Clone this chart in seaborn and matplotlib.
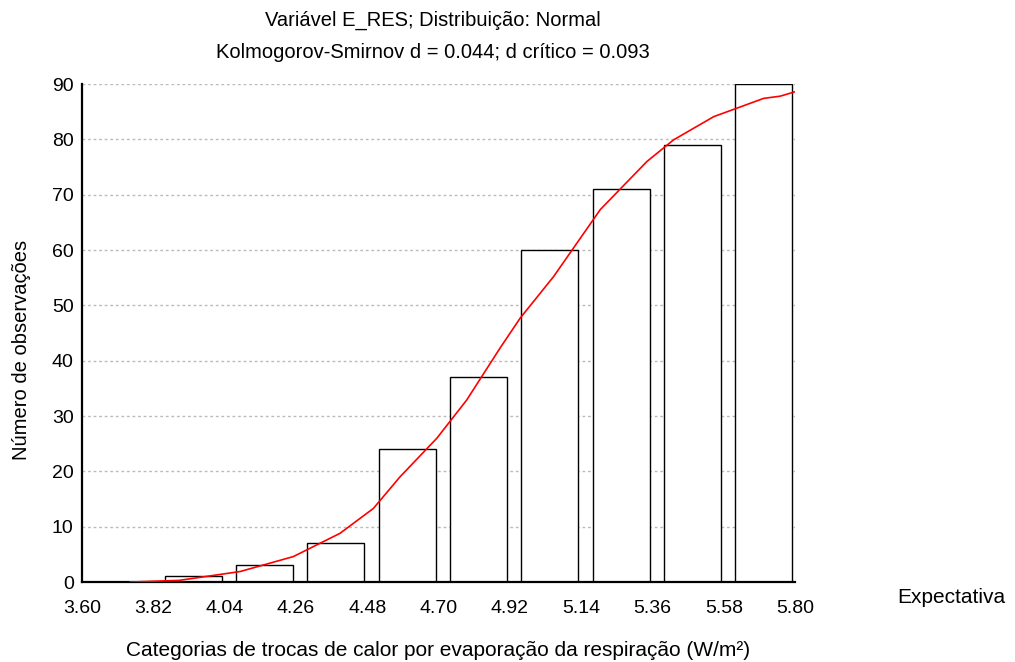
import numpy as np
import matplotlib
matplotlib.use("Agg")
import matplotlib.pyplot as plt
import seaborn as sns

# bin edges (x categories) and cumulative observed counts per bin
bin_edges = [3.60, 3.82, 4.04, 4.26, 4.48, 4.70, 4.92, 5.14, 5.36, 5.58, 5.80]
cum_counts = [0, 1, 3, 7, 24, 37, 60, 71, 79, 90]

# expected cumulative curve
curve_x = [3.748, 3.90, 4.088, 4.252, 4.396, 4.499, 4.581, 4.695, 4.787,
           4.890, 4.952, 5.055, 5.199, 5.343, 5.425, 5.549, 5.703, 5.754, 5.80]
curve_y = [0.0, 0.3, 1.9, 4.6, 8.8, 13.3, 19.0, 26.0, 32.9,
           42.3, 47.7, 55.2, 67.3, 76.0, 79.9, 84.1, 87.4, 87.8, 88.6]

y_ticks = [0, 10, 20, 30, 40, 50, 60, 70, 80, 90]

title = "Variável E_RES; Distribuição: Normal\nKolmogorov-Smirnov d = 0.044; d crítico = 0.093"
xlabel = "Categorias de trocas de calor por evaporação da respiração (W/m²)"
ylabel = "Número de observações"
legend_text = "Expectativa"

sns.set_theme(style="white")
plt.rcParams['font.family'] = ['Liberation Sans', 'DejaVu Sans']
plt.rcParams['text.color'] = 'black'
plt.rcParams['axes.labelcolor'] = 'black'

fig = plt.figure(figsize=(10.15, 6.62), dpi=100)
ax = fig.add_axes([0.0808, 0.1208, 0.7025, 0.7523])

# bars sit inside each bin, shifted right, ~80% of the bin width
edges = np.array(bin_edges)
lefts = edges[:-1]
widths = np.diff(edges)
for left, w, c in zip(lefts, widths, cum_counts):
    if c > 0:
        ax.bar(left + 0.16 * w, c, width=0.8 * w, align='edge',
               facecolor='white', edgecolor='black', linewidth=1.0, zorder=2)

sns.lineplot(x=curve_x, y=curve_y, color='red', linewidth=1.2, ax=ax,
             zorder=3, sort=False)

ax.set_xlim(bin_edges[0], bin_edges[-1])
ax.set_ylim(0, 90)
ax.set_xticks(bin_edges)
ax.set_xticklabels([f"{v:.2f}" for v in bin_edges])
ax.set_yticks(y_ticks)

ax.yaxis.grid(True, color='#bbbbbb', linestyle=(0, (2, 2)), linewidth=1.0, zorder=0)
ax.xaxis.grid(False)

for s in ['top', 'right']:
    ax.spines[s].set_visible(False)
for s in ['left', 'bottom']:
    ax.spines[s].set_color('black')
    ax.spines[s].set_linewidth(1.6)

ax.tick_params(axis='both', direction='in', length=3, width=1, colors='black',
               labelsize=14, pad=6)
ax.tick_params(axis='x', pad=13)

ax.set_title(title, fontsize=14.5, linespacing=1.85, pad=19, x=0.492, color='black')
ax.set_xlabel(xlabel, fontsize=15, labelpad=17)
ax.set_ylabel(ylabel, fontsize=14.5)
ax.yaxis.set_label_coords(-0.071, 0.466)

fig.text(0.937, 0.098, legend_text, fontsize=15, ha='center', va='center')

fig.savefig("out.png", dpi=100)
